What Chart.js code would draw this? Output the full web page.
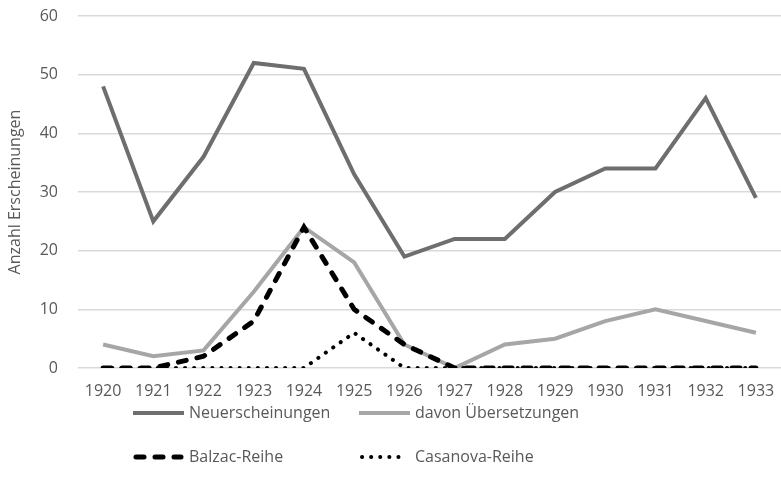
<!DOCTYPE html>
<html>
<head>
<meta charset="utf-8">
<script src="https://cdn.jsdelivr.net/npm/chart.js@4/dist/chart.umd.min.js"></script>
<style>
  html, body { margin: 0; padding: 0; background: #fff; }
  #wrap { width: 781px; height: 492px; }
</style>
</head>
<body>
<div id="wrap"><canvas id="ch" width="781" height="492"></canvas></div>
<script>
const jahre = ['1920', '1921', '1922', '1923', '1924', '1925', '1926', '1927', '1928', '1929', '1930', '1931', '1932', '1933'];
const neuerscheinungen = [48, 25, 36, 52, 51, 33, 19, 22, 22, 30, 34, 34, 46, 29];
const uebersetzungen = [4, 2, 3, 13, 24, 18, 4, 0, 4, 5, 8, 10, 8, 6];
const balzac = [0, 0, 2, 8, 24, 10, 4, 0, 0, 0, 0, 0, 0, 0];
const casanova = [0, 0, 0, 0, 0, 6, 0, 0, 0, 0, 0, 0, 0, 0];

const FONT = '"Open Sans", sans-serif';
const TXT = '#595959';

// Legende in zwei Spalten unter dem Diagramm
const legendPlugin = {
  id: 'zweiSpalten',
  afterDraw(chart) {
    const ctx = chart.ctx;
    const cols = [133, 359];
    const rows = [413, 457];
    chart.data.datasets.forEach((ds, i) => {
      const x = cols[i % 2], y = rows[Math.floor(i / 2)];
      const dashed = ds.borderDash && ds.borderDash.length;
      ctx.save();
      ctx.strokeStyle = ds.borderColor;
      ctx.lineWidth = ds.borderWidth;
      ctx.lineCap = ds.borderCapStyle || 'butt';
      ctx.setLineDash(ds.borderDash || []);
      ctx.beginPath();
      ctx.moveTo(x + (dashed ? 3 : 0), y);
      ctx.lineTo(x + (dashed ? 48 : 51), y);
      ctx.stroke();
      ctx.restore();
      ctx.save();
      ctx.fillStyle = TXT;
      ctx.font = '16px ' + FONT;
      ctx.textBaseline = 'middle';
      ctx.fillText(ds.label, x + 56, y);
      ctx.restore();
    });
  }
};

new Chart(document.getElementById('ch'), {
  type: 'line',
  data: {
    labels: jahre,
    datasets: [
      { label: 'Neuerscheinungen', data: neuerscheinungen, borderColor: '#6f6d6e', borderWidth: 4, order: 2 },
      { label: 'davon Übersetzungen', data: uebersetzungen, borderColor: '#a6a6a6', borderWidth: 4, order: 3 },
      { label: 'Balzac-Reihe', data: balzac, borderColor: '#000000', borderWidth: 5, borderDash: [8, 11], borderCapStyle: 'round', order: 0 },
      { label: 'Casanova-Reihe', data: casanova, borderColor: '#000000', borderWidth: 4, borderDash: [0.1, 9], borderCapStyle: 'round', order: 1 }
    ]
  },
  options: {
    responsive: false,
    animation: false,
    elements: { point: { radius: 0 }, line: { tension: 0 } },
    layout: { padding: { top: 16, right: 0, bottom: 84, left: 4 } },
    plugins: { legend: { display: false }, tooltip: { enabled: false } },
    scales: {
      x: {
        offset: true,
        grid: { display: false },
        border: { display: false },
        ticks: { color: TXT, font: { family: FONT, size: 16 }, padding: 6, maxRotation: 0, autoSkip: false },
        afterFit(scale) { scale.height = 40; scale.paddingLeft = 0; scale.paddingRight = 0; }
      },
      y: {
        min: 0, max: 60,
        ticks: { stepSize: 10, color: TXT, font: { family: FONT, size: 16 }, padding: 20 },
        grid: { color: '#d9d9d9', lineWidth: 1.5, drawTicks: false },
        border: { display: false },
        title: { display: true, text: 'Anzahl Erscheinungen', color: TXT, font: { family: FONT, size: 16 }, padding: 2 },
        afterFit(scale) { scale.width = 74; scale.paddingTop = 0; scale.paddingBottom = 0; }
      }
    }
  },
  plugins: [legendPlugin]
});
</script>
</body>
</html>
